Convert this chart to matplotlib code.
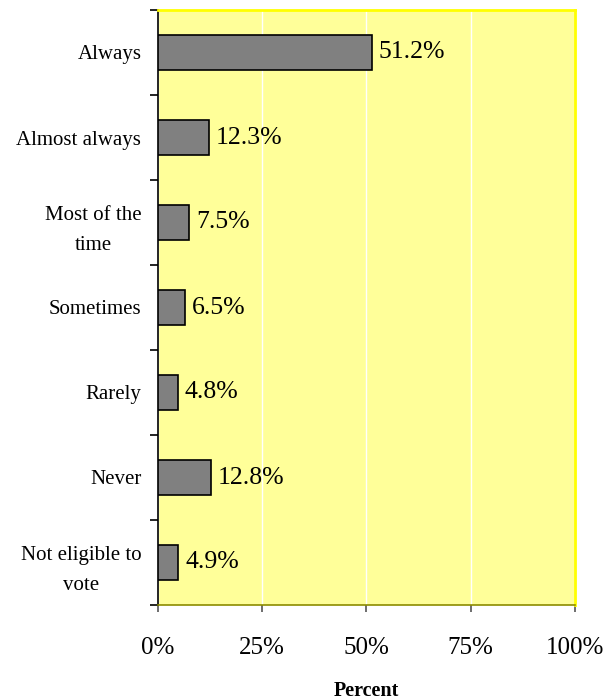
import numpy as np
import matplotlib.pyplot as plt
from matplotlib.ticker import FixedLocator

categories = ['Always', 'Almost always', 'Most of the\ntime', 'Sometimes',
              'Rarely', 'Never', 'Not eligible to\nvote']
values = [51.2, 12.3, 7.5, 6.5, 4.8, 12.8, 4.9]
xticks = [0, 25, 50, 75, 100]

plt.rcParams['font.family'] = ['Liberation Serif', 'DejaVu Serif']

fig = plt.figure(figsize=(6.06, 7), dpi=100)
ax = fig.add_axes([158 / 606, 95 / 700, 417 / 606, 595 / 700])
ax.set_facecolor('#FFFF99')

n = len(categories)
y = np.arange(n)
ax.barh(y, values, height=0.41, color='#808080', edgecolor='black', linewidth=1.2, zorder=3)
for yi, v in zip(y, values):
    ax.text(v + 1.6, yi, f'{v:.1f}%', va='center', ha='left', fontsize=18.5, zorder=4)

ax.set_xlim(0, 100)
ax.set_ylim(n - 0.5, -0.5)
ax.set_xticks(xticks)
ax.set_xticklabels([f'{t}%' for t in xticks], fontsize=18)
ax.tick_params(axis='x', direction='out', length=5, width=1.2, pad=18, color='#555555')
ax.xaxis.grid(True, color='white', linewidth=1, zorder=1)

ax.set_yticks(y)
ax.set_yticklabels(categories, fontsize=15, linespacing=1.75, multialignment='center')
ax.yaxis.set_minor_locator(FixedLocator(np.arange(-0.5, n, 1)))
ax.tick_params(axis='y', which='major', length=0, pad=12)
ax.tick_params(axis='y', which='minor', direction='out', length=6, width=1.2)

ax.spines['left'].set_color('black')
ax.spines['left'].set_linewidth(1.2)
ax.spines['bottom'].set_color('#8C8C00')
ax.spines['bottom'].set_linewidth(1.2)
ax.spines['top'].set_color('#FFFF00')
ax.spines['top'].set_linewidth(2)
ax.spines['right'].set_color('#FFFF00')
ax.spines['right'].set_linewidth(2)

ax.set_xlabel('Percent', fontsize=14.5, fontweight='bold', labelpad=16)

fig.savefig('out.png', dpi=100)
